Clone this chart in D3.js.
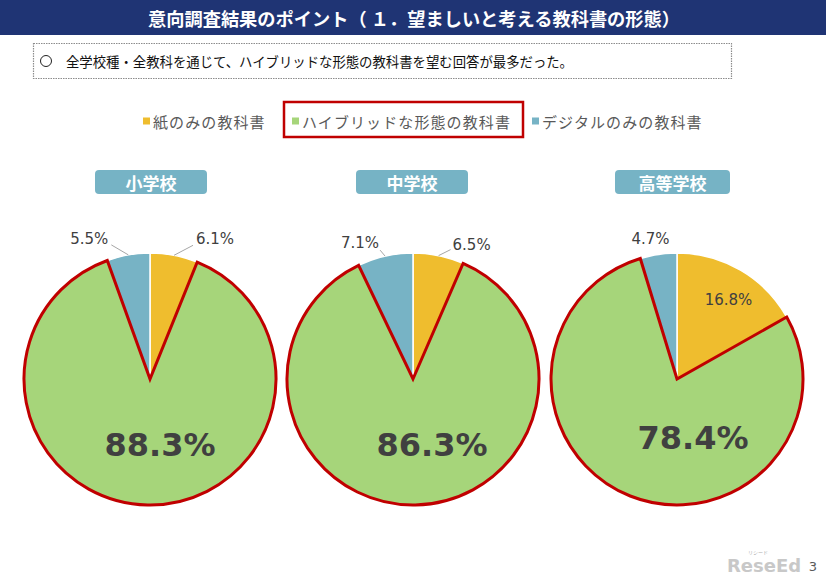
<!DOCTYPE html>
<html>
<head>
<meta charset="utf-8">
<script src="https://cdn.jsdelivr.net/npm/d3@7"></script>
<style>
  html, body { margin: 0; padding: 0; background: #ffffff; }
  svg { display: block; }
</style>
</head>
<body>
<div id="chart"></div>
<script>
// データ
const schools = ['小学校', '中学校', '高等学校'];
const seriesNames = ['紙のみの教科書', 'ハイブリッドな形態の教科書', 'デジタルのみの教科書'];
const paperOnly = [6.1, 6.5, 16.8];
const hybrid = [88.3, 86.3, 78.4];
const digitalOnly = [5.5, 7.1, 4.7];

const titleText = '意向調査結果のポイント（ １．望ましいと考える教科書の形態）';
const summaryText = '全学校種・全教科を通じて、ハイブリッドな形態の教科書を望む回答が最多だった。';

// 見た目の設定
const width = 826;
const height = 583;
const colors = ['#EFBD2E', '#A6D57A', '#77B3C5'];
const highlight = '#C00000';
const jpFont = '"Noto Sans CJK JP", "Noto Sans", sans-serif';
const numFont = '"DejaVu Sans", Verdana, sans-serif';

const pieCenters = [150, 413, 677];
const pieCy = 379;
const radius = 126;

// ラベル配置（スライスの外周点からのずれ）
const labelLayout = [
    [{ mode: 'out', dx: 22, dy: -16, anchor: 'start', lx: 19, ly: -10 },
     { mode: 'big', dx: 10, dy: 66 },
     { mode: 'out', dx: -20, dy: -16, anchor: 'end', lx: -17, ly: -10 }],
    [{ mode: 'out', dx: 14, dy: -11, anchor: 'start', lx: 12, ly: -6 },
     { mode: 'big', dx: 19, dy: 66 },
     { mode: 'out', dx: -6, dy: -13, anchor: 'end', lx: -5, ly: -6 }],
    [{ mode: 'in', dx: 7, dy: -3 },
     { mode: 'big', dx: 16, dy: 59 },
     { mode: 'out', dx: -8, dy: -15, anchor: 'middle' }]
];

const svg = d3.select('#chart')
    .append('svg')
    .attr('width', width)
    .attr('height', height)
    .attr('viewBox', [0, 0, width, height]);

// タイトル帯
svg.append('rect')
    .attr('x', 0).attr('y', 0)
    .attr('width', width).attr('height', 35)
    .attr('fill', '#1F3474');

svg.append('text')
    .attr('x', 414).attr('y', 18)
    .attr('text-anchor', 'middle')
    .attr('dominant-baseline', 'central')
    .attr('font-family', jpFont)
    .attr('font-weight', 'bold')
    .attr('font-size', 18)
    .attr('textLength', 532)
    .attr('lengthAdjust', 'spacingAndGlyphs')
    .attr('fill', '#ffffff')
    .text(titleText);

// 要約ボックス
svg.append('rect')
    .attr('x', 33.5).attr('y', 43.5)
    .attr('width', 698).attr('height', 35)
    .attr('fill', 'none')
    .attr('stroke', '#8c8c8c')
    .attr('stroke-width', 1.2)
    .attr('stroke-dasharray', '1.5,1');

svg.append('circle')
    .attr('cx', 46).attr('cy', 61)
    .attr('r', 5.5)
    .attr('fill', 'none')
    .attr('stroke', '#222')
    .attr('stroke-width', 1);

svg.append('text')
    .attr('x', 66).attr('y', 61)
    .attr('dominant-baseline', 'central')
    .attr('font-family', jpFont)
    .attr('font-size', 14)
    .attr('textLength', 507)
    .attr('lengthAdjust', 'spacingAndGlyphs')
    .attr('fill', '#111')
    .text(summaryText);

// 凡例
const legendX = [143, 292, 532];
const legend = svg.append('g')
    .selectAll('g')
    .data(seriesNames)
    .join('g')
    .attr('transform', (d, i) => `translate(${legendX[i]},121)`);

legend.append('rect')
    .attr('x', 0).attr('y', -3.5)
    .attr('width', 7).attr('height', 7)
    .attr('fill', (d, i) => colors[i]);

legend.append('text')
    .attr('x', 10).attr('y', 0)
    .attr('dominant-baseline', 'central')
    .attr('font-family', jpFont)
    .attr('font-size', 15)
    .attr('letter-spacing', 1.1)
    .attr('fill', '#595959')
    .text(d => d);

svg.append('rect')
    .attr('x', 284).attr('y', 102)
    .attr('width', 239).attr('height', 35)
    .attr('fill', 'none')
    .attr('stroke', highlight)
    .attr('stroke-width', 2.5);

// 学校種の見出し
const headerW = [112, 112, 115];
const headerX = [95, 356, 615];
const header = svg.append('g')
    .selectAll('g')
    .data(schools)
    .join('g')
    .attr('transform', (d, i) => `translate(${headerX[i]},170)`);

header.append('rect')
    .attr('width', (d, i) => headerW[i])
    .attr('height', 24)
    .attr('rx', 4)
    .attr('fill', '#76B3C5');

header.append('text')
    .attr('x', (d, i) => headerW[i] / 2)
    .attr('y', 12.5)
    .attr('text-anchor', 'middle')
    .attr('dominant-baseline', 'central')
    .attr('font-family', jpFont)
    .attr('font-weight', 'bold')
    .attr('font-size', 17)
    .attr('fill', '#ffffff')
    .text(d => d);

// 円グラフ
const pie = d3.pie().sort(null).value(d => d.value);
const arc = d3.arc().innerRadius(0).outerRadius(radius);

schools.forEach((school, i) => {
    const values = [
        { key: seriesNames[0], value: paperOnly[i], idx: 0 },
        { key: seriesNames[1], value: hybrid[i], idx: 1 },
        { key: seriesNames[2], value: digitalOnly[i], idx: 2 }
    ];
    const arcs = pie(values);
    const g = svg.append('g')
        .attr('transform', `translate(${pieCenters[i]},${pieCy})`);

    // ハイブリッド以外を先に描く
    g.selectAll('path.other')
        .data(arcs.filter(a => a.data.idx !== 1))
        .join('path')
        .attr('class', 'other')
        .attr('d', arc)
        .attr('fill', a => colors[a.data.idx])
        .attr('stroke', '#ffffff')
        .attr('stroke-width', 1.5);

    g.selectAll('path.hybrid')
        .data(arcs.filter(a => a.data.idx === 1))
        .join('path')
        .attr('class', 'hybrid')
        .attr('d', arc)
        .attr('fill', colors[1])
        .attr('stroke', highlight)
        .attr('stroke-width', 3)
        .attr('stroke-linejoin', 'miter');

    // ラベル
    arcs.forEach(a => {
        const lay = labelLayout[i][a.data.idx];
        const mid = (a.startAngle + a.endAngle) / 2;
        const label = a.data.value.toFixed(1) + '%';
        if (lay.mode === 'big') {
            g.append('text')
                .attr('x', lay.dx).attr('y', lay.dy)
                .attr('text-anchor', 'middle')
                .attr('dominant-baseline', 'central')
                .attr('font-family', numFont)
                .attr('font-weight', 'bold')
                .attr('font-size', 32)
                .attr('fill', '#404040')
                .text(label);
        } else if (lay.mode === 'in') {
            const r = radius * 0.7;
            g.append('text')
                .attr('x', Math.sin(mid) * r + lay.dx)
                .attr('y', -Math.cos(mid) * r + lay.dy)
                .attr('text-anchor', 'middle')
                .attr('dominant-baseline', 'central')
                .attr('font-family', numFont)
                .attr('font-size', 15)
                .attr('fill', '#404040')
                .text(label);
        } else {
            const ex = Math.sin(mid) * radius;
            const ey = -Math.cos(mid) * radius;
            if (lay.lx !== undefined) {
                g.append('line')
                    .attr('x1', ex).attr('y1', ey)
                    .attr('x2', ex + lay.lx).attr('y2', ey + lay.ly)
                    .attr('stroke', '#A6A6A6')
                    .attr('stroke-width', 1);
            }
            g.append('text')
                .attr('x', ex + lay.dx).attr('y', ey + lay.dy)
                .attr('text-anchor', lay.anchor)
                .attr('dominant-baseline', 'central')
                .attr('font-family', numFont)
                .attr('font-size', 15)
                .attr('fill', '#404040')
                .text(label);
        }
    });
});

// ロゴとページ番号
svg.append('text')
    .attr('x', 727).attr('y', 572)
    .attr('font-family', '"DejaVu Sans", sans-serif')
    .attr('font-weight', 'bold')
    .attr('font-size', 18)
    .attr('fill', '#C8C8C8')
    .text('ReseEd');

svg.append('text')
    .attr('x', 748).attr('y', 554)
    .attr('font-family', jpFont)
    .attr('font-size', 5)
    .attr('fill', '#b0b0b0')
    .text('リシード');

svg.append('text')
    .attr('x', 813).attr('y', 566)
    .attr('text-anchor', 'middle')
    .attr('dominant-baseline', 'central')
    .attr('font-family', numFont)
    .attr('font-size', 13)
    .attr('fill', '#595959')
    .text('3');
</script>
</body>
</html>
